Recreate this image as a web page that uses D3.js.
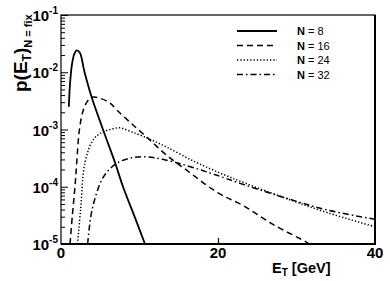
<!DOCTYPE html>
<html>
<head>
<meta charset="utf-8">
<script src="https://cdn.jsdelivr.net/npm/d3@7"></script>
<style>
  body { margin: 0; background: #fff; }
  svg { display: block; font-family: "Liberation Sans", Arial, sans-serif; }
</style>
</head>
<body>
<svg id="chart" width="390" height="281"></svg>
<script>
// energies (GeV) and probabilities
const e8 = [1.0, 1.15, 1.4, 1.7, 2.0, 2.4, 3.0, 3.9, 5.35, 6.9, 7.9, 9.3, 10.7];
const p8 = [2.5e-3, 6.3e-3, 1.38e-2, 2.09e-2, 2.4e-2, 2.19e-2, 1.0e-2, 3.7e-3, 1.0e-3, 2.6e-4, 1.0e-4, 3.2e-5, 1.0e-5];

const e16 = [1.15, 1.45, 1.78, 2.0, 2.35, 2.85, 3.5, 4.1, 5.0, 6.25, 7.1, 9, 11.3, 13.5, 16, 20, 23.2, 27, 31.3, 31.6];
const p16 = [1e-5, 3.2e-5, 1e-4, 2.6e-4, 1e-3, 2.2e-3, 3.3e-3, 3.7e-3, 3.5e-3, 2.9e-3, 2.2e-3, 1.26e-3, 6.6e-4, 3.5e-4, 1.95e-4, 7.8e-5, 4.7e-5, 2.2e-5, 1.07e-5, 1e-5];

const e24 = [2.1, 2.5, 3.05, 4.1, 5.2, 6.5, 7.5, 9, 11.3, 13.5, 16.9, 20, 23.5, 29.2, 34, 40];
const p24 = [1e-5, 4e-5, 2.6e-4, 6.6e-4, 8.9e-4, 1.02e-3, 1.07e-3, 9.1e-4, 6.8e-4, 4.9e-4, 2.8e-4, 1.8e-4, 1.15e-4, 5.9e-5, 3.5e-5, 2.0e-5];

const e32 = [3.4, 3.95, 5.2, 6.3, 7.5, 9, 10.5, 12, 14.7, 19, 23.2, 29.2, 34, 40];
const p32 = [1e-5, 3.9e-5, 1.32e-4, 2.1e-4, 2.75e-4, 3.2e-4, 3.35e-4, 3.2e-4, 2.63e-4, 1.74e-4, 1.1e-4, 6.0e-5, 3.9e-5, 2.7e-5];

const labels = ["8", "16", "24", "32"];
const dashes = [null, "6,4", "1.3,2", "6,3,1.5,3"];
const xTicks = [0, 20, 40];
const yTicks = [1e-5, 1e-4, 1e-3, 1e-2, 1e-1];

const series = [[e8, p8], [e16, p16], [e24, p24], [e32, p32]];

const svg = d3.select("#chart");
const mLeft = 61, mRight = 375, mTop = 15, mBottom = 244;

const x = d3.scaleLinear().domain([0, 40]).range([mLeft, mRight]);
const y = d3.scaleLog().domain([1e-5, 1e-1]).range([mBottom, mTop]);

svg.append("clipPath").attr("id", "clip")
  .append("rect").attr("x", mLeft).attr("y", mTop)
  .attr("width", mRight - mLeft).attr("height", mBottom - mTop);

// y axis: ticks drawn inside the frame
const yAxis = d3.axisRight(y)
  .tickValues(y.ticks().filter(d => d <= 1e-1))
  .tickSize(0).tickFormat("");
const gy = svg.append("g").attr("transform", `translate(${mLeft},0)`).call(yAxis);
gy.select(".domain").remove();
gy.selectAll(".tick line")
  .attr("x2", d => yTicks.includes(d) ? 7 : 4)
  .attr("stroke", "#000").attr("stroke-width", 1);

// x axis tick at 20 only, pointing up
const xAxis = d3.axisTop(x).tickValues([20]).tickSize(6).tickFormat("");
const gx = svg.append("g").attr("transform", `translate(0,${mBottom})`).call(xAxis);
gx.select(".domain").remove();
gx.selectAll(".tick line").attr("stroke-width", 1.2);

// tick labels
svg.selectAll(".xlab").data(xTicks).join("text")
  .attr("x", d => x(d)).attr("y", 258)
  .attr("text-anchor", "middle")
  .attr("font-size", 15).attr("font-weight", "bold")
  .text(d => d);

const ylab = svg.selectAll(".ylab").data(yTicks).join("text")
  .attr("x", 58).attr("y", d => y(d) + 6)
  .attr("text-anchor", "end")
  .attr("font-size", 15).attr("font-weight", "bold");
ylab.append("tspan").text("10");
ylab.append("tspan").attr("dy", -7).attr("font-size", 10)
  .text(d => "-" + Math.round(-Math.log10(d)));

// curves
const line = d3.line()
  .x(d => x(d[0])).y(d => y(d[1]))
  .curve(d3.curveCatmullRom.alpha(0.5));

const plot = svg.append("g").attr("clip-path", "url(#clip)");
series.forEach((s, i) => {
  plot.append("path")
    .datum(d3.zip(s[0], s[1]))
    .attr("d", line)
    .attr("fill", "none")
    .attr("stroke", "#000")
    .attr("stroke-width", i === 0 ? 1.8 : 1.5)
    .attr("stroke-dasharray", dashes[i]);
});

// frame
svg.append("rect")
  .attr("x", mLeft).attr("y", mTop)
  .attr("width", mRight - mLeft).attr("height", mBottom - mTop)
  .attr("fill", "none").attr("stroke", "#000").attr("stroke-width", 1.2);
svg.append("line").attr("x1", mRight).attr("x2", mRight).attr("y1", mTop).attr("y2", mBottom + 1)
  .attr("stroke", "#000").attr("stroke-width", 2);
svg.append("line").attr("x1", mLeft).attr("x2", mRight + 1).attr("y1", mBottom).attr("y2", mBottom)
  .attr("stroke", "#000").attr("stroke-width", 2);

// legend
const leg = svg.append("g");
labels.forEach((l, i) => {
  const ly = 31 + i * 14.5;
  leg.append("line")
    .attr("x1", 237).attr("x2", 277).attr("y1", ly).attr("y2", ly)
    .attr("stroke", "#000").attr("stroke-width", i === 0 ? 1.8 : 1.5)
    .attr("stroke-dasharray", dashes[i]);
  const t = leg.append("text").attr("x", 297).attr("y", ly + 4).attr("font-size", 11);
  t.append("tspan").attr("font-weight", "bold").text("N");
  t.append("tspan").text(" = " + l);
});

// axis titles
const xt = svg.append("text").attr("x", 272).attr("y", 273)
  .attr("font-size", 14.5).attr("font-weight", "bold");
xt.append("tspan").text("E");
xt.append("tspan").attr("dy", 3).attr("font-size", 10).text("T");
xt.append("tspan").attr("dy", -3).text(" [GeV]");

const yt = svg.append("text")
  .attr("transform", "translate(27,92) rotate(-90)")
  .attr("font-size", 19).attr("font-weight", "bold");
yt.append("tspan").text("p(E");
yt.append("tspan").attr("dy", 4).attr("font-size", 12).text("T");
yt.append("tspan").attr("dy", -4).text(")");
yt.append("tspan").attr("dy", 5).attr("font-size", 11).text("N = fix");
</script>
</body>
</html>
